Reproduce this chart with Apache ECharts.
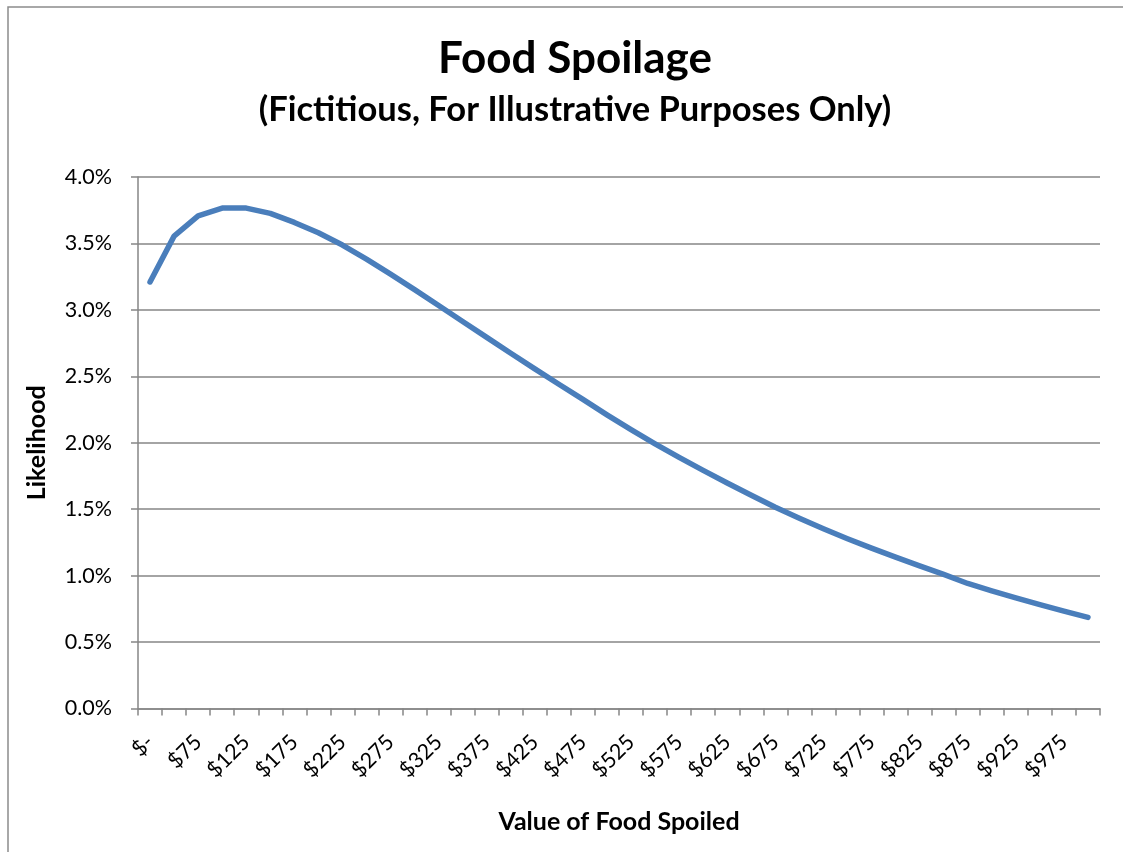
<!DOCTYPE html>
<html>
<head>
<meta charset="utf-8">
<script src="https://cdn.jsdelivr.net/npm/echarts@6/dist/echarts.min.js"></script>
<style>
html,body{margin:0;padding:0;background:#fff;}
#chart{width:1123px;height:852px;}
</style>
</head>
<body>
<div id="chart"></div>
<script>
// Category labels (value of food spoiled)
const categories = ["$-", "$50", "$75", "$100", "$125", "$150", "$175", "$200", "$225", "$250",
  "$275", "$300", "$325", "$350", "$375", "$400", "$425", "$450", "$475", "$500",
  "$525", "$550", "$575", "$600", "$625", "$650", "$675", "$700", "$725", "$750",
  "$775", "$800", "$825", "$850", "$875", "$900", "$925", "$950", "$975", "$1,000"];
// Likelihood in percent
const likelihood = [3.21, 3.555, 3.708, 3.766, 3.766, 3.726, 3.658, 3.580, 3.488, 3.382,
  3.269, 3.152, 3.033, 2.913, 2.793, 2.674, 2.556, 2.440, 2.326, 2.210,
  2.099, 1.992, 1.890, 1.792, 1.697, 1.605, 1.515, 1.432, 1.353, 1.278,
  1.207, 1.139, 1.073, 1.009, 0.941, 0.886, 0.833, 0.782, 0.733, 0.686];
const yTicks = { min: 0, max: 4, interval: 0.5 };
const titleText = "Food Spoilage";
const subtitleText = "(Fictitious, For Illustrative Purposes Only)";
const xAxisName = "Value of Food Spoiled";
const yAxisName = "Likelihood";

const FONT = "Lato, 'Open Sans', sans-serif";
const GRAY = "#868686";
const chart = echarts.init(document.getElementById('chart'), null, {renderer: 'canvas'});
chart.setOption({
  backgroundColor: '#fff',
  animation: false,
  title: [
    { text: titleText, left: 570, top: 32, textAlign: 'center',
      textStyle: { fontFamily: FONT, fontWeight: 'bold', fontSize: 44, color: '#000' } },
    { text: subtitleText, left: 570, top: 87, textAlign: 'center',
      textStyle: { fontFamily: FONT, fontWeight: 'bold', fontSize: 34.5, color: '#000' } }
  ],
  graphic: [
    { type: 'rect', shape: { x: 8, y: 7, width: 1300, height: 1000 },
      style: { fill: 'none', stroke: '#8c8c8c', lineWidth: 1.5 }, silent: true }
  ],
  grid: { left: 138, right: 23, top: 177, bottom: 143.5, containLabel: false },
  xAxis: {
    type: 'category',
    data: categories,
    boundaryGap: true,
    name: xAxisName,
    nameLocation: 'middle',
    nameGap: 101,
    nameTextStyle: { fontFamily: FONT, fontWeight: 'bold', fontSize: 25, color: '#000' },
    axisLine: { lineStyle: { color: GRAY, width: 1.5 } },
    axisTick: { show: true, interval: 0, length: 7, lineStyle: { color: GRAY, width: 1.5 } },
    axisLabel: { interval: 1, rotate: 45, margin: 30, fontFamily: FONT, fontSize: 21.5, color: '#000' },
    splitLine: { show: false }
  },
  yAxis: {
    type: 'value',
    min: yTicks.min, max: yTicks.max, interval: yTicks.interval,
    name: yAxisName,
    nameLocation: 'middle',
    nameGap: 89,
    nameRotate: 90,
    nameTextStyle: { fontFamily: FONT, fontWeight: 'bold', fontSize: 25, color: '#000' },
    axisLine: { show: true, lineStyle: { color: GRAY, width: 1.5 } },
    axisTick: { show: true, length: 7, lineStyle: { color: GRAY, width: 1.5 } },
    axisLabel: { margin: 26, fontFamily: FONT, fontSize: 21.5, color: '#000',
      formatter: v => v.toFixed(1) + '%' },
    splitLine: { show: true, lineStyle: { color: GRAY, width: 1.5 } }
  },
  series: [{
    type: 'line',
    data: likelihood,
    symbol: 'none',
    smooth: false,
    lineStyle: { color: '#4A7EBB', width: 5.5, cap: 'round', join: 'round' }
  }]
});
</script>
</body>
</html>
